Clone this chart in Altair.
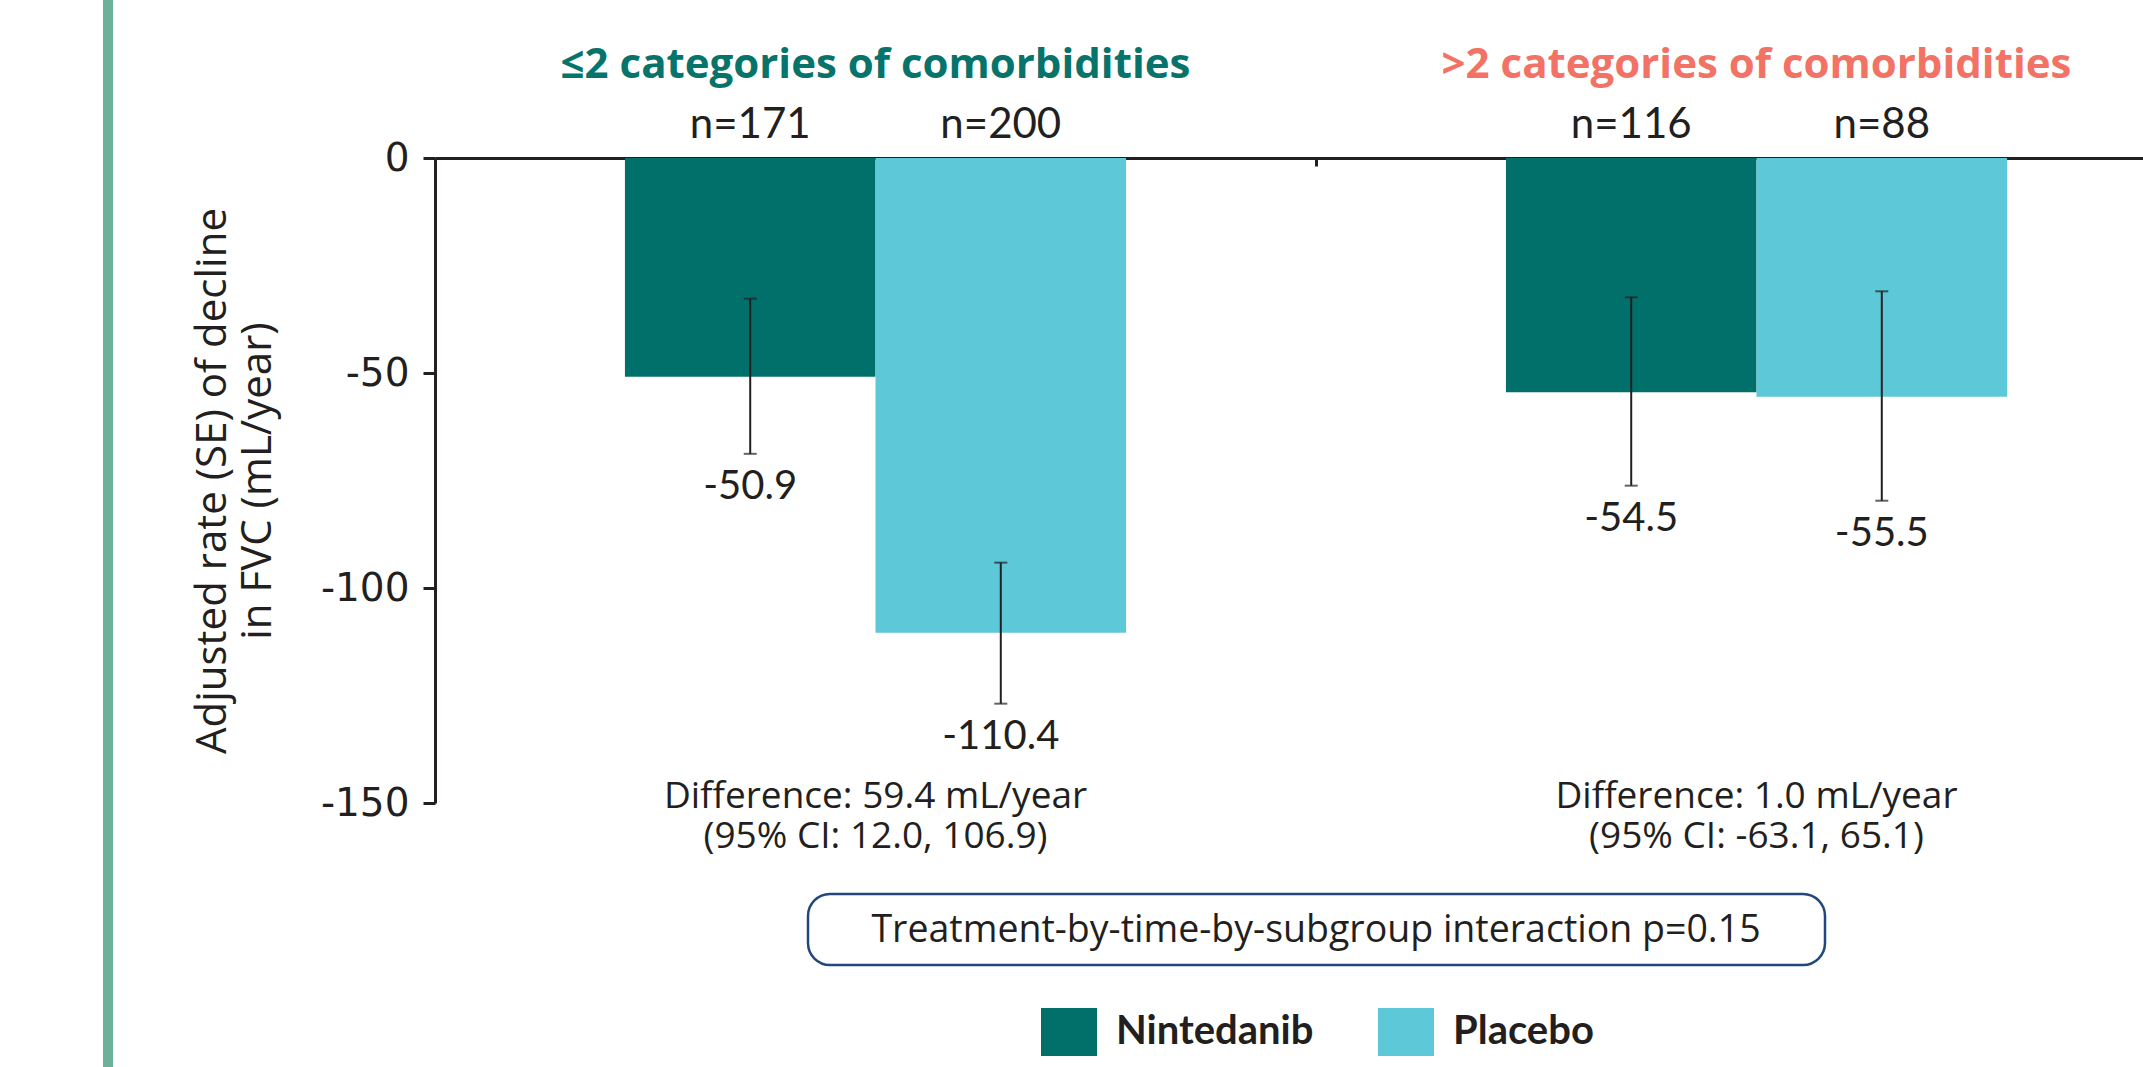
import altair as alt
import pandas as pd

# ---------------- data ----------------
groups = ["≤2 categories of comorbidities", ">2 categories of comorbidities"]
treatments = ["Nintedanib", "Placebo"]
bar_group = [groups[0], groups[0], groups[1], groups[1]]
bar_treatment = ["Nintedanib", "Placebo", "Nintedanib", "Placebo"]
rate = [-50.9, -110.4, -54.5, -55.5]
err_upper = [-32.7, -94.1, -32.4, -31.0]
err_lower = [-68.8, -126.9, -76.2, -79.7]
n_labels = ["n=171", "n=200", "n=116", "n=88"]
value_labels = ["-50.9", "-110.4", "-54.5", "-55.5"]
diff_line1 = ["Difference: 59.4 mL/year", "Difference: 1.0 mL/year"]
diff_line2 = ["(95% CI: 12.0, 106.9)", "(95% CI: -63.1, 65.1)"]
interaction_text = ["Treatment-by-time-by-subgroup interaction p=0.15"]
y_ticks = [0, -50, -100, -150]
y_title = ["Adjusted rate (SE) of decline", "in FVC (mL/year)"]

# ---------------- styles ----------------
FONT = "Lato"
FONT_WIDE = "Open Sans"
FONT_TICK = "DejaVu Sans"
INK = "#231f20"
NINT = "#02706a"
PLAC = "#5cc8d8"
TITLE_COLORS = ["#06746b", "#f27365"]
BOX = "#23477c"
STRIP = "#6db19b"

PLOT_H = 645
VIEW_W = 1708          # visible part of the plot area
X_RANGE = 1762         # full extent of the two group bands (runs past the right edge)

bars = pd.DataFrame({
    "group": bar_group,
    "treatment": bar_treatment,
    "rate": rate,
    "upper": err_upper,
    "lower": err_lower,
    "n": n_labels,
    "value": value_labels,
})
grp = pd.DataFrame({
    "group": groups,
    "diff": [[a, b] for a, b in zip(diff_line1, diff_line2)],
})
box = pd.DataFrame({"label": interaction_text})

x_enc = alt.X(
    "group:N",
    scale=alt.Scale(domain=groups, range=[0, X_RANGE], paddingInner=0, paddingOuter=0),
    axis=alt.Axis(orient="bottom", offset=-PLOT_H, labels=False, title=None,
                  ticks=True, tickSize=8, tickWidth=3, tickColor=INK,
                  domainWidth=3, domainColor=INK, bandPosition=0, grid=False),
)
xo_enc = alt.XOffset("treatment:N",
                     scale=alt.Scale(domain=treatments, paddingInner=0, paddingOuter=0.758))
y_scale = alt.Scale(domain=[-150, 0], nice=False)
y_axis = alt.Axis(values=y_ticks, grid=False, domainWidth=3, domainColor=INK,
                  tickWidth=3, tickColor=INK, tickSize=12, labelPadding=14,
                  labelExpr="datum.value == 0 ? '0' : '-' + abs(datum.value)",
                  labelFont=FONT_TICK, labelFontSize=39, labelColor=INK,
                  titleFont=FONT_WIDE, titleFontSize=42, titleFontWeight="normal",
                  titleColor=INK, titleLineHeight=45, titleAngle=-90,
                  titleX=-201, titleY=PLOT_H / 2, titleAlign="center",
                  titleBaseline="bottom")


def y_enc(field):
    return alt.Y(field, type="quantitative", scale=y_scale, axis=y_axis, title=y_title)


base = alt.Chart(bars)

bar_layer = base.mark_bar().encode(
    x=x_enc, xOffset=xo_enc, y=y_enc("rate"),
    color=alt.Color("treatment:N",
                    scale=alt.Scale(domain=treatments, range=[NINT, PLAC]),
                    legend=alt.Legend(orient="none", legendX=606, legendY=846,
                                      direction="horizontal", title=None,
                                      symbolType="M-1,-0.857H1V0.857H-1Z",
                                      symbolSize=3136, symbolStrokeWidth=0,
                                      symbolOpacity=1, labelFont=FONT,
                                      labelFontSize=40, labelFontWeight="bold",
                                      labelColor=INK, labelOffset=19,
                                      labelLimit=400, columnPadding=64,
                                      padding=0)),
)

err_rule = base.mark_rule(color=INK, strokeWidth=2).encode(
    x=x_enc, xOffset=xo_enc, y=y_enc("upper"), y2="lower:Q")
cap_top = base.mark_tick(color=INK, thickness=2, size=13, orient="horizontal").encode(
    x=x_enc, xOffset=xo_enc, y=y_enc("upper"))
cap_bot = base.mark_tick(color=INK, thickness=2, size=13, orient="horizontal").encode(
    x=x_enc, xOffset=xo_enc, y=y_enc("lower"))

value_text = base.mark_text(font=FONT, fontSize=40, color=INK, baseline="alphabetic",
                            dy=45).encode(
    x=x_enc, xOffset=xo_enc, y=y_enc("lower"), text="value:N")

n_text = base.mark_text(font=FONT, fontSize=42, color=INK, baseline="alphabetic",
                        dy=-20).encode(
    x=x_enc, xOffset=xo_enc, y=alt.Y(datum=0, type="quantitative"), text="n:N")

title_layers = []
for i, g in enumerate(groups):
    title_layers.append(
        alt.Chart(grp).transform_filter(alt.datum.group == g)
        .mark_text(font=FONT_WIDE, fontSize=42, fontWeight="bold", color=TITLE_COLORS[i],
                   baseline="alphabetic", dy=-80)
        .encode(x=x_enc, y=alt.Y(datum=0, type="quantitative"), text="group:N")
    )

diff_text = alt.Chart(grp).mark_text(font=FONT_WIDE, fontSize=37, color=INK,
                                     baseline="top", lineHeight=40).encode(
    x=x_enc, y=alt.Y(datum=-144.4, type="quantitative"), text="diff")

box_rect = alt.Chart(box).mark_rect(fill="white", stroke=BOX, strokeWidth=2.5,
                                    cornerRadius=22).encode(
    x=alt.value(373), x2=alt.value(1390), y=alt.value(736), y2=alt.value(807))
box_text = alt.Chart(box).mark_text(font=FONT_WIDE, fontSize=37.5, color=INK,
                                    baseline="middle", align="center").encode(
    x=alt.value(881), y=alt.value(773), text="label:N")

strip = alt.Chart(box).mark_rect(fill=STRIP).encode(
    x=alt.value(-332), x2=alt.value(-322), y=alt.value(-158), y2=alt.value(909))

chart = alt.layer(
    strip, bar_layer, err_rule, cap_top, cap_bot, value_text, n_text,
    *title_layers, diff_text, box_rect, box_text,
).properties(
    width=VIEW_W, height=PLOT_H,
    autosize=alt.AutoSizeParams(type="none"),
    padding={"left": 435, "top": 158, "right": 0, "bottom": 264},
    background="white",
).configure_view(strokeWidth=0).configure_text(font=FONT)

chart.save("out.html", embed_options={"renderer": "svg", "actions": False})
